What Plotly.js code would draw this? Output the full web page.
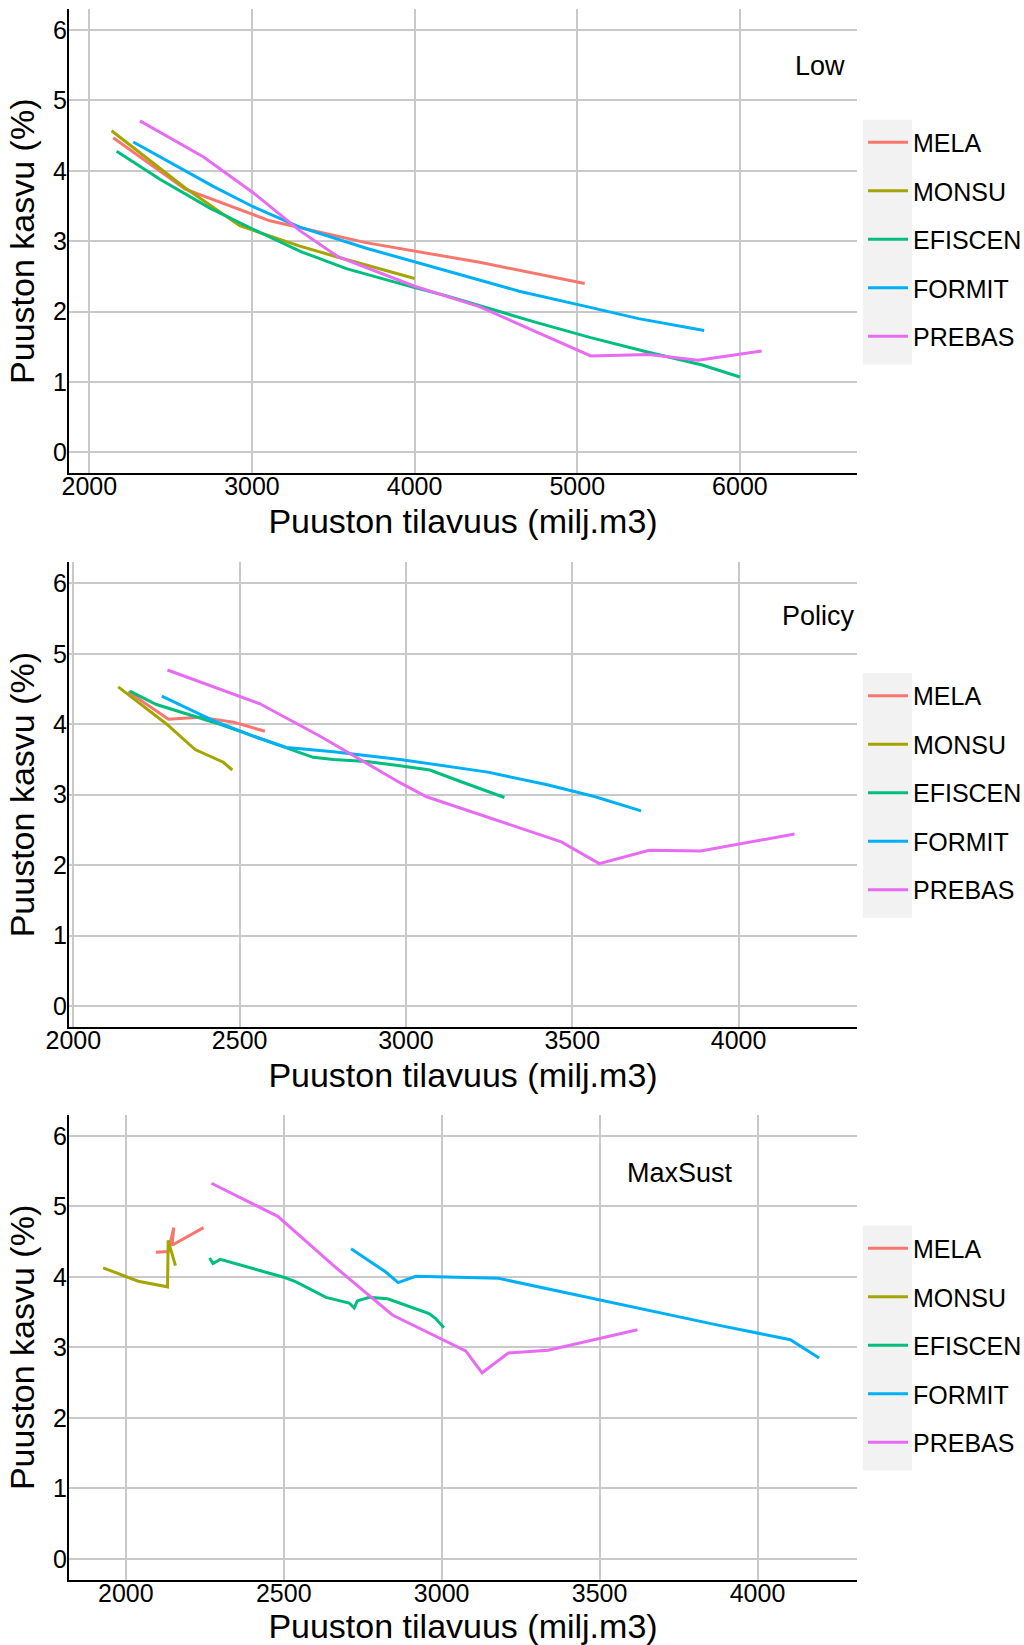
<!DOCTYPE html>
<html>
<head>
<meta charset="utf-8">
<script src="https://cdn.plot.ly/plotly-3.0.1.min.js"></script>
<style>html,body{margin:0;padding:0;background:#fff;}#chart{width:1024px;height:1645px;}</style>
</head>
<body>
<div id="chart"></div>
<script>
// ---------- DATA ----------
const models = ['MELA', 'MONSU', 'EFISCEN', 'FORMIT', 'PREBAS'];
const scenarioLabels = ['Low', 'Policy', 'MaxSust'];
const xTitle = 'Puuston tilavuus (milj.m3)';
const yTitle = 'Puuston kasvu (%)';

// Low
const lowMelaX = [2147, 2590, 3110, 3700, 4400, 5046];
const lowMelaY = [4.47, 3.74, 3.29, 2.98, 2.70, 2.40];
const lowMonsuX = [2137, 2588, 2925, 3294, 3519, 4000];
const lowMonsuY = [4.57, 3.76, 3.22, 2.93, 2.78, 2.47];
const lowEfiscenX = [2168, 2434, 2741, 3007, 3304, 3580, 4000, 4203, 4741, 5083, 5425, 5768, 6000];
const lowEfiscenY = [4.28, 3.88, 3.47, 3.17, 2.85, 2.61, 2.34, 2.22, 1.85, 1.63, 1.43, 1.24, 1.07];
const lowFormitX = [2270, 2762, 3007, 3294, 3703, 4000, 4643, 5059, 5377, 5780];
const lowFormitY = [4.41, 3.78, 3.49, 3.20, 2.90, 2.71, 2.29, 2.07, 1.90, 1.73];
const lowPrebasX = [2311, 2700, 3007, 3294, 3529, 4000, 4398, 5083, 5438, 5743, 6134];
const lowPrebasY = [4.71, 4.20, 3.69, 3.15, 2.78, 2.36, 2.07, 1.37, 1.39, 1.31, 1.44];

// Policy
const polMelaX = [2165, 2286, 2381, 2481, 2576];
const polMelaY = [4.46, 4.07, 4.10, 4.03, 3.90];
const polMonsuX = [2135, 2281, 2366, 2451, 2478];
const polMonsuY = [4.53, 4.00, 3.64, 3.46, 3.35];
const polEfiscenX = [2170, 2250, 2441, 2641, 2721, 2782, 2882, 2982, 3072, 3162, 3296];
const polEfiscenY = [4.47, 4.28, 4.00, 3.67, 3.53, 3.50, 3.47, 3.41, 3.35, 3.19, 2.96];
const polFormitX = [2266, 2421, 2541, 2641, 2782, 2982, 3246, 3425, 3569, 3707];
const polFormitY = [4.40, 4.05, 3.83, 3.67, 3.61, 3.50, 3.32, 3.14, 2.97, 2.77];
const polPrebasX = [2283, 2561, 2742, 2882, 2982, 3062, 3269, 3467, 3581, 3731, 3886, 4168];
const polPrebasY = [4.77, 4.29, 3.83, 3.45, 3.17, 2.97, 2.64, 2.33, 2.02, 2.21, 2.20, 2.44];

// MaxSust
const maxMelaX = [2095, 2134, 2152, 2146, 2246];
const maxMelaY = [4.35, 4.36, 4.70, 4.45, 4.70];
const maxMonsuX = [1928, 2039, 2132, 2134, 2157];
const maxMonsuY = [4.13, 3.94, 3.86, 4.52, 4.16];
const maxEfiscenX = [2265, 2276, 2299, 2497, 2539, 2634, 2707, 2723, 2733, 2771, 2829, 2960, 2981, 3007];
const maxEfiscenY = [4.27, 4.19, 4.25, 4.00, 3.93, 3.71, 3.63, 3.56, 3.66, 3.71, 3.69, 3.48, 3.41, 3.28];
const maxFormitX = [2713, 2823, 2862, 2918, 3180, 3494, 3871, 4104, 4195];
const maxFormitY = [4.40, 4.07, 3.92, 4.01, 3.98, 3.68, 3.32, 3.11, 2.85];
const maxPrebasX = [2271, 2481, 2655, 2844, 3076, 3128, 3211, 3337, 3620];
const maxPrebasY = [5.33, 4.86, 4.17, 3.46, 2.95, 2.64, 2.92, 2.96, 3.25];

// ---------- STYLE / LAYOUT ----------
const colors = ['#F8766D', '#A3A500', '#00BF7D', '#00B0F6', '#E76BF3'];
const FONT = 'Liberation Sans, Arial, Helvetica, sans-serif';

const W = 1024, H = 1645;
const plotLeft = 69, plotRight = 857;
const panelTop = [8.9, 562.2, 1114.9];
const panelBottom = [473.4, 1027.1, 1580.1];
const mL = plotLeft, mR = W - plotRight, mT = panelTop[0], mB = H - panelBottom[2];
const pw = W - mL - mR, ph = H - mT - mB;
const pX = px => (px - mL) / pw;
const pY = py => 1 - (py - mT) / ph;

const xRanges = [[1875, 6720], [1987, 4356], [1820, 4315]];
const xDticks = [1000, 500, 500];
const labelPos = [[6492, 5.49], [4240, 5.53], [3756, 5.48]];

const scen = [
  [[lowMelaX, lowMelaY], [lowMonsuX, lowMonsuY], [lowEfiscenX, lowEfiscenY], [lowFormitX, lowFormitY], [lowPrebasX, lowPrebasY]],
  [[polMelaX, polMelaY], [polMonsuX, polMonsuY], [polEfiscenX, polEfiscenY], [polFormitX, polFormitY], [polPrebasX, polPrebasY]],
  [[maxMelaX, maxMelaY], [maxMonsuX, maxMonsuY], [maxEfiscenX, maxEfiscenY], [maxFormitX, maxFormitY], [maxPrebasX, maxPrebasY]]
];

const traces = [];
const layout = {
  width: W, height: H,
  margin: {l: mL, r: mR, t: mT, b: mB, pad: 0, autoexpand: false},
  paper_bgcolor: '#ffffff', plot_bgcolor: '#ffffff',
  font: {family: FONT, color: '#000000'},
  showlegend: true,
  annotations: [], shapes: []
};

for (let p = 0; p < 3; p++) {
  const sfx = p === 0 ? '' : String(p + 1);
  const legName = 'legend' + sfx;
  scen[p].forEach((d, i) => {
    traces.push({
      type: 'scatter', mode: 'lines',
      x: d[0], y: d[1],
      name: models[i],
      xaxis: 'x' + sfx, yaxis: 'y' + sfx,
      legend: legName,
      legendgroup: 'g' + p + '_' + i,
      line: {color: colors[i], width: 3},
      hoverinfo: 'x+y+name'
    });
  });
  const dom = [pY(panelBottom[p]), pY(panelTop[p])];
  layout['xaxis' + sfx] = {
    domain: [0, 1], anchor: 'y' + sfx,
    range: xRanges[p], dtick: xDticks[p], tick0: 0,
    showgrid: true, gridcolor: '#c9c9c9', gridwidth: 2,
    zeroline: false, showline: true, linecolor: '#000000', linewidth: 2,
    ticks: '', ticklabelstandoff: -10,
    tickfont: {size: 25, color: '#000000', family: FONT},
    title: {text: xTitle, font: {size: 34, color: '#000000', family: FONT}, standoff: 10},
    automargin: false, fixedrange: true
  };
  layout['yaxis' + sfx] = {
    domain: dom, anchor: 'x' + sfx,
    range: [-0.3, 6.3], dtick: 1, tick0: 0,
    showgrid: true, gridcolor: '#c9c9c9', gridwidth: 2,
    zeroline: false, showline: true, linecolor: '#000000', linewidth: 2,
    ticks: '', ticklabelstandoff: -5,
    tickfont: {size: 25, color: '#000000', family: FONT},
    title: {text: yTitle, font: {size: 34, color: '#000000', family: FONT}, standoff: 8},
    automargin: false, fixedrange: true
  };
  const boxTop = panelTop[p] + 110.7, boxBot = panelTop[p] + 355.6;
  layout[legName] = {
    xref: 'container', yref: 'container',
    x: 863 / W, xanchor: 'left',
    y: 1 - boxTop / H, yanchor: 'top',
    bgcolor: 'rgba(0,0,0,0)', borderwidth: 0,
    font: {size: 25, color: '#000000', family: FONT},
    itemwidth: 40,
    tracegroupgap: 13, traceorder: 'grouped',
    itemclick: false, itemdoubleclick: false
  };
  layout.shapes.push({
    type: 'rect', xref: 'paper', yref: 'paper', layer: 'below',
    x0: pX(862.8), x1: pX(912), y0: pY(boxBot), y1: pY(boxTop),
    fillcolor: '#f2f2f2', line: {width: 0}
  });
  layout.annotations.push({
    xref: 'x' + sfx, yref: 'y' + sfx,
    x: labelPos[p][0], y: labelPos[p][1],
    text: scenarioLabels[p], showarrow: false,
    xanchor: 'center', yanchor: 'middle',
    font: {size: 27, color: '#000000', family: FONT}
  });
}

Plotly.newPlot('chart', traces, layout, {displayModeBar: false, staticPlot: false});
</script>
</body>
</html>
